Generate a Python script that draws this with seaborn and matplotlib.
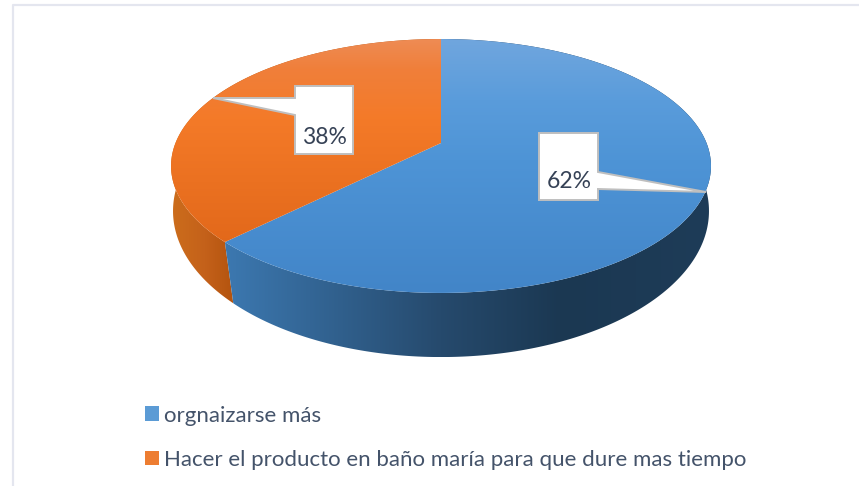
import numpy as np
import matplotlib
matplotlib.use("Agg")
import matplotlib.pyplot as plt
from matplotlib.colors import to_rgb
from matplotlib.patches import Polygon, Rectangle
from matplotlib.lines import Line2D
import seaborn as sns

categories = ["orgnaizarse más", "Hacer el producto en baño maría para que dure mas tiempo"]
values = [62, 38]

TEXT = "#44536a"
LABEL_TEXT = "#364256"
FONT = ["Lato", "DejaVu Sans"]
LEGEND_COLORS = ["#5b9bd5", "#ed7d31"]

sns.set_theme(style="white")
plt.rcParams["font.family"] = FONT

fig = plt.figure(figsize=(8.59, 4.86), dpi=100)
ax = fig.add_axes([0, 0, 1, 1])

# library computes slice angles
wedges, _ = ax.pie(values, startangle=90, counterclock=False)
arcs = [(w.theta1, w.theta2) for w in wedges]
for w in wedges:
    w.remove()
ax.set_aspect("auto")
ax.set_xlim(0, 859)
ax.set_ylim(486, 0)
ax.axis("off")


def project(theta_deg, cx, cy, a, b, p, warp=3.0):
    t = np.radians(theta_deg - warp * np.sin(np.radians(theta_deg - 90)))
    u, v = np.cos(t), np.sin(t)
    d = 1 + p * v
    return cx + a * u / d, cy - b * v / d


TOP = dict(cx=441, cy=143, a=265.5, b=122.8, p=0.181)
BOT = dict(cx=441, cy=192, a=265.7, b=143.6, p=0.13)


def gradient(poly, stops, colors, horizontal=False):
    xs, ys = poly[:, 0], poly[:, 1]
    x0, x1, y0, y1 = xs.min(), xs.max(), ys.min(), ys.max()
    rgb = np.array([to_rgb(c) for c in colors])
    if horizontal:
        g = np.linspace(x0, x1, 512)
    else:
        g = np.linspace(y0, y1, 512)
    arr = np.stack([np.interp(g, stops, rgb[:, i]) for i in range(3)], axis=-1)
    arr = arr[None, :, :] if horizontal else arr[:, None, :]
    im = ax.imshow(arr, extent=(x0, x1, y1, y0), origin="upper", aspect="auto",
                   interpolation="bilinear", zorder=2)
    patch = Polygon(poly, closed=True, transform=ax.transData, fc="none", ec="none")
    ax.add_patch(patch)
    im.set_clip_path(patch)


SIDE = [
    ([226, 440, 560, 710], ["#3c78b0", "#264a6d", "#1b3852", "#1e3c58"]),
    ([172, 205, 232], ["#cc6d1c", "#c4611a", "#b4540f"]),
]
FACE = [
    ([39, 100, 160, 293], ["#70a6de", "#5a9cdb", "#4e94d6", "#4285c8"]),
    ([39, 70, 120, 245], ["#ee8c55", "#f07f3a", "#f47a28", "#e2681a"]),
]

# side walls first (blue painted last so its seam sits on top)
for (t1, t2), (st, co) in reversed(list(zip(arcs, SIDE))):
    th = np.linspace(t1, t2, 400)
    tx, ty = project(th, **TOP)
    bx, by = project(th, **BOT)
    poly = np.column_stack([np.r_[tx, bx[::-1]], np.r_[ty, by[::-1]]])
    gradient(poly, st, co, horizontal=True)

# top faces
for (t1, t2), (st, co) in zip(arcs, FACE):
    th = np.linspace(t1, t2, 400)
    tx, ty = project(th, **TOP)
    poly = np.column_stack([np.r_[TOP["cx"], tx], np.r_[TOP["cy"], ty]])
    gradient(poly, st, co)

# data-label callouts
CALLOUTS = [
    dict(box=(539, 598, 133, 200), tip=(706, 192), base=(172, 189), side="right", text_xy=(569, 181)),
    dict(box=(295, 353, 86, 154), tip=(213, 98), base=(98, 115), side="left", text_xy=(324, 137)),
]
for val, c in zip(values, CALLOUTS):
    x0, x1, y0, y1 = c["box"]
    b0, b1 = c["base"]
    if c["side"] == "right":
        pts = [(x0, y0), (x1, y0), (x1, b0), c["tip"], (x1, b1), (x1, y1), (x0, y1)]
    else:
        pts = [(x0, y0), (x1, y0), (x1, y1), (x0, y1), (x0, b1), c["tip"], (x0, b0)]
    ax.add_patch(Polygon(pts, closed=True, fc="white", ec="#bfbfbf", lw=1.4, zorder=4, joinstyle="miter"))
    ax.text(*c["text_xy"], f"{val}%", ha="center", va="center", fontsize=16.5, color=LABEL_TEXT, zorder=5)

# chart frame (visible on left and top only)
ax.add_line(Line2D([12.5, 12.5, 859], [486, 5.5, 5.5], color="#e4e6ef", lw=1.6, zorder=1))

# legend
handles = [Rectangle((0, 0), 1, 1, fc=c, ec="none") for c in LEGEND_COLORS]
leg = ax.legend(handles, categories, loc="upper left", bbox_to_anchor=(145 / 859, 1 - 405.5 / 486),
                frameon=False, fontsize=16.03, labelcolor=TEXT, handlelength=0.63, handleheight=0.63,
                handletextpad=0.24, labelspacing=1.09, borderpad=0, borderaxespad=0)

fig.savefig("out.png", dpi=100, facecolor="white")
